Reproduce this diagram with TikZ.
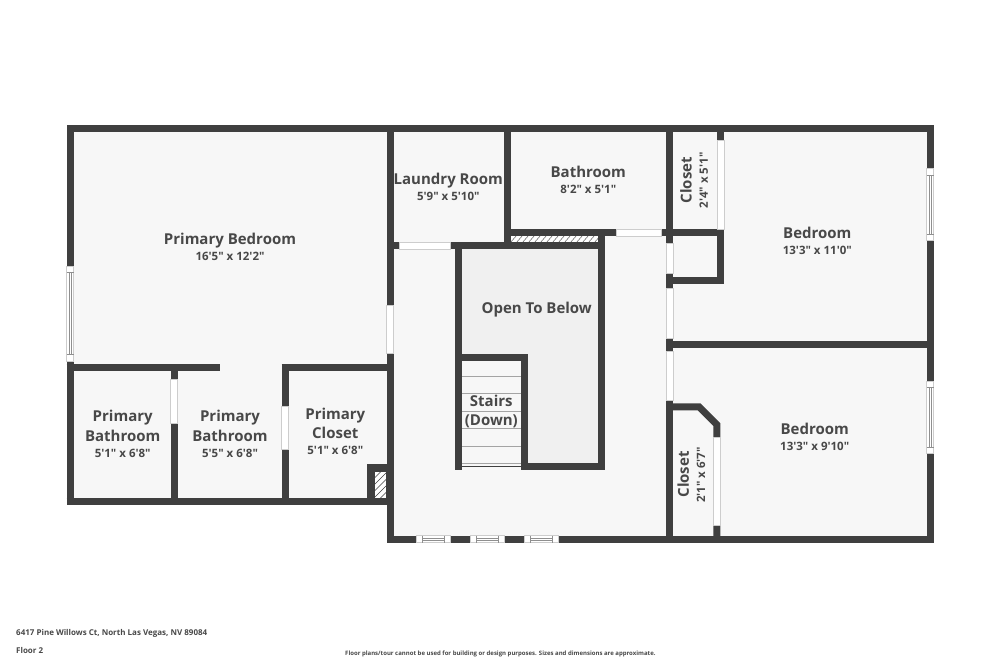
\documentclass[tikz,border=0pt]{standalone}
\usepackage{fontspec}
\usepackage{xcolor}
\usepackage{tikz}
\usetikzlibrary{patterns}
\newfontfamily\planfont{Open Sans}
\definecolor{WallColor}{RGB}{63,63,63}
\definecolor{FloorColor}{RGB}{247,247,247}
\definecolor{OpenColor}{RGB}{240,240,240}
\definecolor{EdgeColor}{RGB}{205,205,205}
\definecolor{LabelColor}{RGB}{72,72,72}
\tikzstyle{wall} = [line width=7pt, WallColor]
\tikzstyle{doorgap} = [fill=white, draw=EdgeColor, line width=0.7pt]
\tikzstyle{glass} = [draw=EdgeColor!70!black, line width=0.6pt]
\tikzstyle{hatch} = [draw=WallColor, line width=0.4pt]
\tikzstyle{roomname} = [text=LabelColor, inner sep=0pt, align=center, font=\planfont\bfseries\fontsize{15}{19.4}\selectfont]
\tikzstyle{roomsize} = [text=LabelColor, inner sep=0pt, font=\planfont\bfseries\fontsize{11.5}{13}\selectfont]
\tikzstyle{footnote} = [text=LabelColor, inner sep=0pt, anchor=west, font=\planfont\bfseries\fontsize{6}{8}\selectfont]
\begin{document}
\begin{tikzpicture}[x=1pt, y=-1pt]
    \useasboundingbox (0,0) rectangle (1000,667);
    \fill[white] (0,0) rectangle (1000,667);
    % floor
    \fill[FloorColor] (70,128) -- (930,128) -- (930,539) -- (390,539) -- (390,502) -- (70,502) -- cycle;
    \fill[OpenColor] (462,249) rectangle (598,463);
    \fill[FloorColor] (462,361) rectangle (521,466);
    % stairs
    \foreach \stepy in {376,393,411,428,446,463}
        \draw[EdgeColor!80!black, line width=0.7pt] (462,\stepy) -- (521,\stepy);
    \draw[WallColor, line width=0.7pt] (462,466) -- (521,466);
    % walls
    \draw[wall, line join=miter] (70,502) -- (70,128) -- (930,128) -- (930,539) -- (390,539) -- (390,128);
    \draw[wall] (66.5,501.7) -- (390,501.7);
    \draw[wall] (66.5,367.7) -- (220.3,367.7);
    \draw[wall] (281.7,367.7) -- (390,367.7);
    \draw[wall] (174.3,367.7) -- (174.3,501.7);
    \draw[wall] (285.2,364.2) -- (285.2,501.7);
    \draw[wall] (370.5,501.7) -- (370.5,463.7);
    \draw[wall] (367,467.2) -- (390,467.2);
    \draw[wall] (387,245.6) -- (605.3,245.6);
    \draw[wall] (507.2,128) -- (507.2,245.6);
    \draw[wall] (507.2,232.5) -- (673,232.5);
    \draw[wall] (601.8,232.5) -- (601.8,470.3);
    \draw[wall] (458.5,245.6) -- (458.5,470.3);
    \draw[wall] (455,357.8) -- (528.3,357.8);
    \draw[wall] (524.8,354.3) -- (524.8,470.3);
    \draw[wall] (521.3,466.8) -- (605.3,466.8);
    \draw[wall] (669.8,128) -- (669.8,539);
    \draw[wall] (661,232.5) -- (724,232.5);
    \draw[wall] (720.6,128) -- (720.6,284);
    \draw[wall] (669.8,280.5) -- (724,280.5);
    \draw[wall] (669.8,344.7) -- (930,344.7);
    \draw[wall, line join=miter] (669.8,406.8) -- (699,406.8) -- (716.8,424.6) -- (716.8,539);
    % doors
    \foreach \doorx/\doora/\doorb in {390/305/353.3, 174.3/379.3/423.3, 285.2/406/449.7, 669.8/243.3/273.3, 669.8/288.3/338.3, 669.8/351.7/400.7, 720.6/140/229, 716.8/437.3/525.3}
        \filldraw[doorgap] (\doorx-3.5,\doora) rectangle (\doorx+3.5,\doorb);
    \foreach \doory/\doora/\doorb in {245.6/399/450.7, 232.5/616/661.7}
        \filldraw[doorgap] (\doora,\doory-3.5) rectangle (\doorb,\doory+3.5);
    % windows
    \foreach \winx/\wina/\winb in {70/266/361, 930/168.7/240.7, 930/381/453.7} {
        \filldraw[doorgap] (\winx-3.5,\wina) rectangle (\winx+3.5,\winb);
        \draw[glass] (\winx-3.5,\wina+6.5) -- (\winx+3.5,\wina+6.5);
        \draw[glass] (\winx-3.5,\winb-6.5) -- (\winx+3.5,\winb-6.5);
        \draw[glass] (\winx-1.2,\wina+6.5) -- (\winx-1.2,\winb-6.5);
        \draw[glass] (\winx+1.2,\wina+6.5) -- (\winx+1.2,\winb-6.5);
    }
    \foreach \wina/\winb in {416.7/450.3, 470/504, 524.3/558} {
        \filldraw[doorgap] (\wina,535.5) rectangle (\winb,542.5);
        \draw[glass] (\wina+6,535.5) -- (\wina+6,542.5);
        \draw[glass] (\winb-6,535.5) -- (\winb-6,542.5);
        \draw[glass] (\wina+6,537.8) -- (\winb-6,537.8);
        \draw[glass] (\wina+6,540.2) -- (\winb-6,540.2);
    }
    % shafts
    \filldraw[fill=white, hatch] (373.8,470.8) rectangle (386.5,498.2);
    \begin{scope}
        \clip (373.8,470.8) rectangle (386.5,498.2);
        \foreach \hatchy in {474,480.5,...,520}
            \draw[hatch] (372,\hatchy) -- (388,\hatchy-16);
    \end{scope}
    \filldraw[fill=white, draw=none] (510.7,236) rectangle (598.3,242);
    \begin{scope}
        \clip (510.7,236) rectangle (598.3,242);
        \foreach \hatchx in {510,516,...,600}
            \draw[hatch] (\hatchx,243) -- (\hatchx+7,235);
    \end{scope}
    % labels
    \node[roomname] (bedroomp) at (230,241) {Primary Bedroom};
    \node[roomsize] (bedroompsize) at (230,256.5) {16'5" x 12'2"};
    \node[roomname] (bathone) at (122.7,426) {Primary\\Bathroom};
    \node[roomsize] (bathonesize) at (122.7,453) {5'1" x 6'8"};
    \node[roomname] (bathtwo) at (230,426) {Primary\\Bathroom};
    \node[roomsize] (bathtwosize) at (230,453) {5'5" x 6'8"};
    \node[roomname] (closetp) at (335.3,423.4) {Primary\\Closet};
    \node[roomsize] (closetpsize) at (335.3,450.3) {5'1" x 6'8"};
    \node[roomname] (laundry) at (448.3,180.4) {Laundry Room};
    \node[roomsize] (laundrysize) at (448.3,196) {5'9" x 5'10"};
    \node[roomname] (bathtop) at (588.3,171.8) {Bathroom};
    \node[roomsize] (bathtopsize) at (588.3,189) {8'2" x 5'1"};
    \node[roomname] (openbelow) at (536.7,309.2) {Open To Below};
    \node[roomname] (stairs) at (491.3,411.5) {Stairs\\(Down)};
    \node[roomname, rotate=90] (closetup) at (686,180) {Closet};
    \node[roomsize, rotate=90] (closetupsize) at (703.7,180.3) {2'4" x 5'1"};
    \node[roomname] (bedroomup) at (817.3,233.2) {Bedroom};
    \node[roomsize] (bedroomupsize) at (817.3,250.3) {13'3" x 11'0"};
    \node[roomname, rotate=90] (closetlow) at (683.3,474.3) {Closet};
    \node[roomsize, rotate=90] (closetlowsize) at (701,475) {2'1" x 6'7"};
    \node[roomname] (bedroomlow) at (814.7,429.2) {Bedroom};
    \node[roomsize] (bedroomlowsize) at (814.7,446.3) {13'3" x 9'10"};
    % footer
    \node[footnote, font=\planfont\bfseries\fontsize{8}{10}\selectfont] (address) at (16,633.5) {6417 Pine Willows Ct, North Las Vegas, NV 89084};
    \node[footnote, font=\planfont\bfseries\fontsize{8}{10}\selectfont] (floorno) at (16,650) {Floor 2};
    \node[footnote] (disclaimer) at (345,654) {Floor plans/tour cannot be used for building or design purposes. Sizes and dimensions are approximate.};
\end{tikzpicture}
\end{document}
